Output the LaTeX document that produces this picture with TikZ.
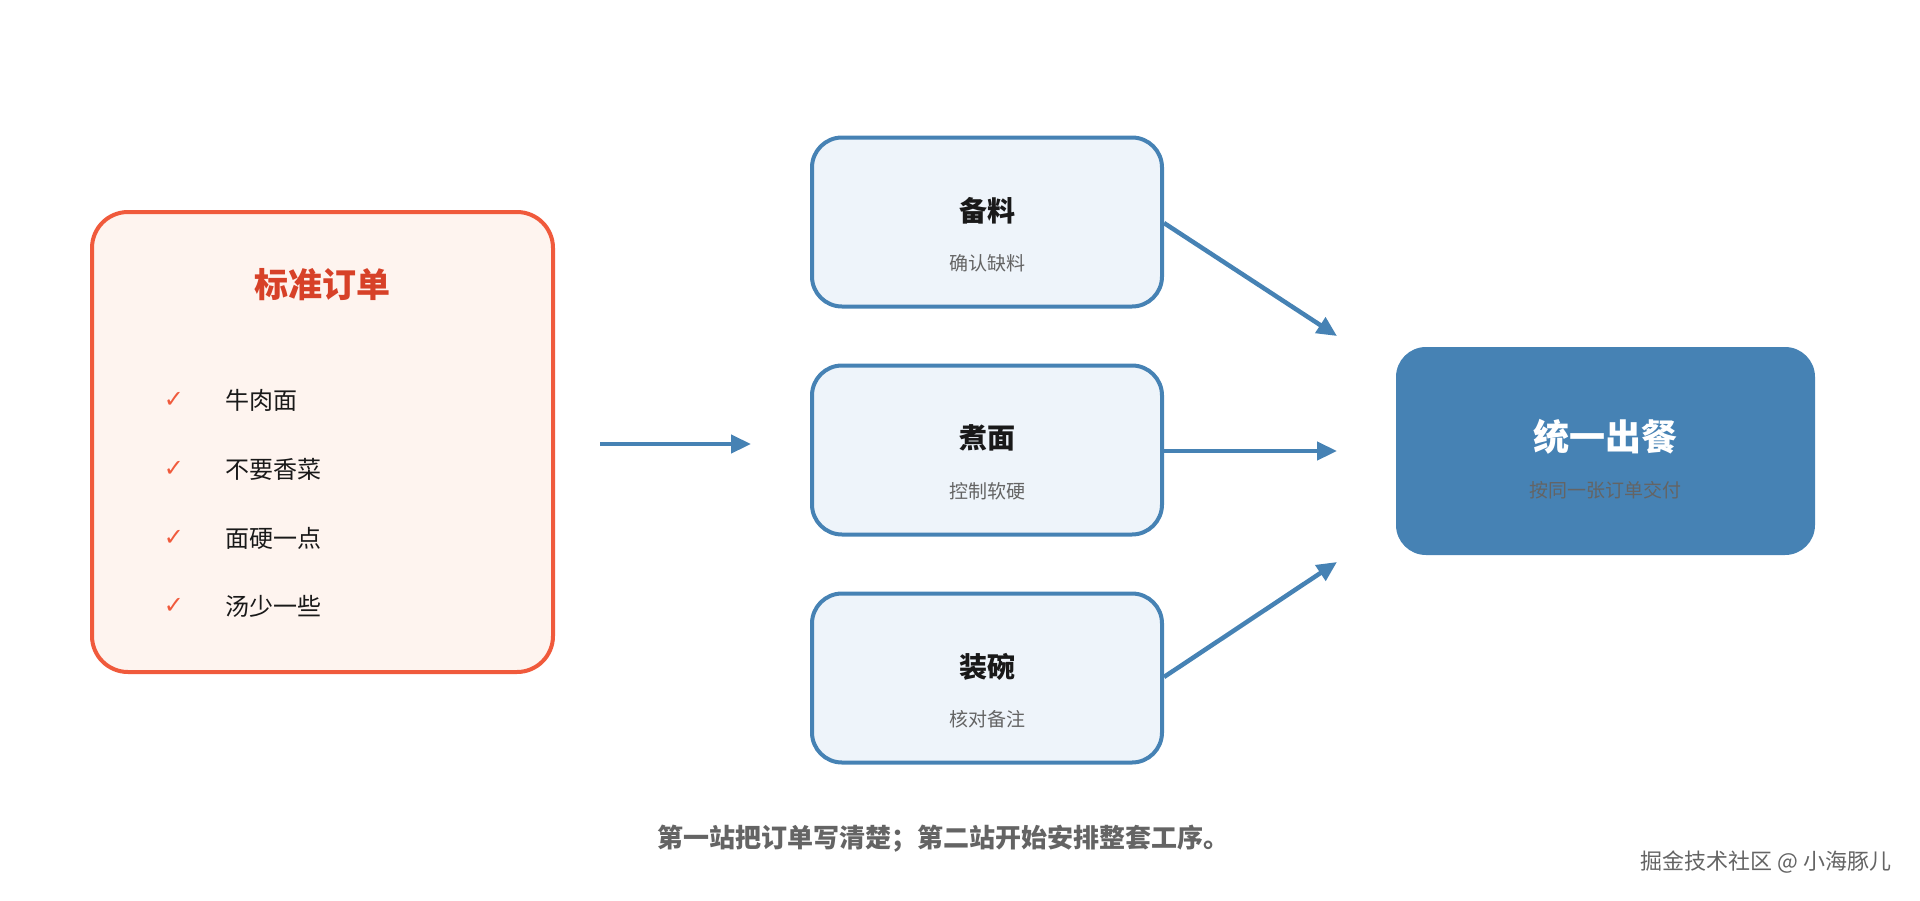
\documentclass[tikz,border=0pt]{standalone}
\usepackage{fontspec}
\setmainfont{Noto Sans CJK SC}
\newfontfamily\symfont{DejaVu Sans}
\usetikzlibrary{arrows.meta, positioning}
\definecolor{ordred}{RGB}{240, 90, 60}
\definecolor{ordfill}{RGB}{254, 244, 239}
\definecolor{ordtitle}{RGB}{215, 65, 40}
\definecolor{stepblue}{RGB}{70, 130, 180}
\definecolor{stepfill}{RGB}{238, 244, 250}
\definecolor{subgray}{RGB}{100, 100, 100}
\tikzset{
    orderbox/.style={rectangle, rounded corners=36pt, draw=ordred, fill=ordfill, line width=4pt,
                     minimum width=461pt, minimum height=460pt},
    stepbox/.style={rectangle, rounded corners=30pt, draw=stepblue, fill=stepfill, line width=4pt,
                    minimum width=350pt, minimum height=169pt},
    servebox/.style={rectangle, rounded corners=30pt, fill=stepblue,
                     minimum width=419pt, minimum height=208pt},
    steptitle/.style={font=\fontsize{28}{30}\selectfont\bfseries, text=black!90},
    stepsub/.style={font=\fontsize{19}{21}\selectfont, text=subgray},
    item/.style={anchor=west, font=\fontsize{24}{26}\selectfont, text=black!90},
    tick/.style={font=\symfont\fontsize{24}{26}\selectfont, text=ordred},
    arrow/.style={-{Triangle[length=20pt, width=18pt]}, line width=4.5pt, stepblue},
}
\begin{document}
\begin{tikzpicture}[x=1pt, y=-1pt]
    \useasboundingbox (0,0) rectangle (1920,900);
    % standard order
    \node[orderbox] (order) at (322.5, 442) {};
    \node[font=\fontsize{34}{36}\selectfont\bfseries, text=ordtitle] (ordtitle) at (322.5, 285) {标准订单};
    \node[tick] (t1) at (174, 400) {✓};
    \node[item] (i1) at (222, 400) {牛肉面};
    \node[tick] (t2) at (174, 469) {✓};
    \node[item] (i2) at (222, 469) {不要香菜};
    \node[tick] (t3) at (174, 538) {✓};
    \node[item] (i3) at (222, 538) {面硬一点};
    \node[tick] (t4) at (174, 606) {✓};
    \node[item] (i4) at (222, 606) {汤少一些};

    % steps
    \node[stepbox] (prep) at (987, 222) {};
    \node[steptitle] at (987, 211) {备料};
    \node[stepsub] at (987, 263) {确认缺料};
    \node[stepbox] (boil) at (987, 450) {};
    \node[steptitle] at (987, 438) {煮面};
    \node[stepsub] at (987, 491) {控制软硬};
    \node[stepbox] (bowl) at (987, 678) {};
    \node[steptitle] at (987, 667) {装碗};
    \node[stepsub] at (987, 719) {核对备注};

    % serve
    \node[servebox] (serve) at (1605.5, 451) {};
    \node[font=\fontsize{36}{38}\selectfont\bfseries, text=white] at (1605.5, 437) {统一出餐};
    \node[stepsub] at (1605.5, 490) {按同一张订单交付};

    % arrows
    \coordinate (in1) at (600, 444);
    \coordinate (in2) at (751, 444);
    \coordinate (c1) at (1337, 336);
    \coordinate (c2) at (1337, 451);
    \coordinate (c3) at (1337, 562);
    \draw[arrow] (in1) -- (in2);
    \draw[arrow] (prep.east |- 0,223) -- (c1);
    \draw[arrow] (boil.east |- 0,451) -- (c2);
    \draw[arrow] (bowl.east |- 0,677) -- (c3);

    % caption
    \node[font=\fontsize{26}{28}\selectfont\bfseries, text=subgray] (caption) at (943, 839)
        {第一站把订单写清楚；第二站开始安排整套工序。};
    \node[anchor=east, font=\fontsize{22}{24}\selectfont, text=subgray] (mark) at (1895, 862)
        {掘金技术社区 @ 小海豚儿};
\end{tikzpicture}
\end{document}
